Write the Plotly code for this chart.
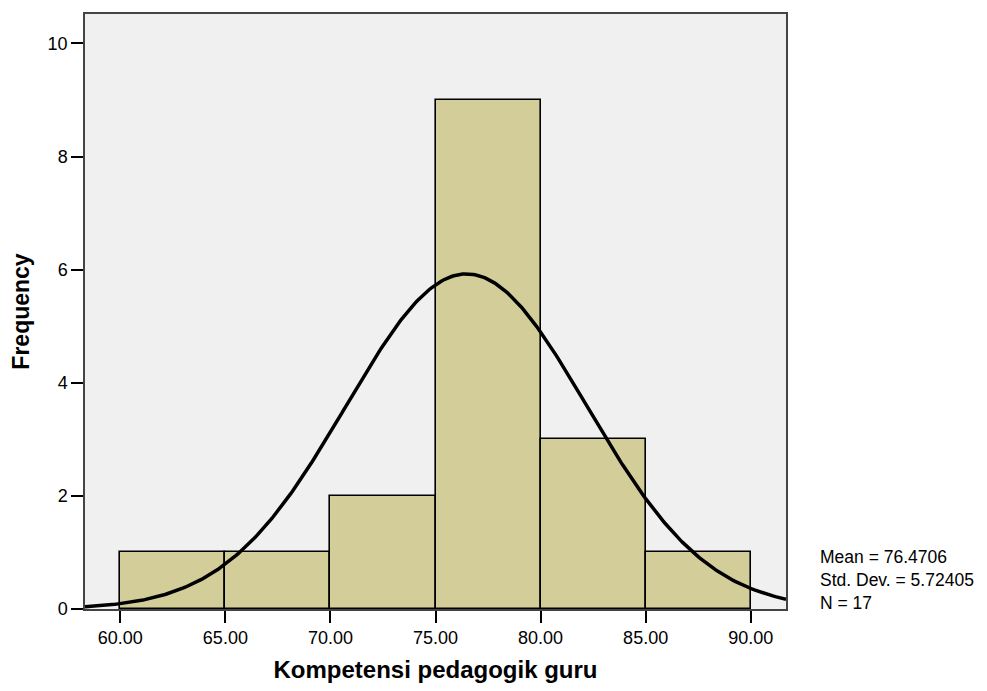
import numpy as np
import plotly.graph_objects as go

bin_starts = [60, 65, 70, 75, 80, 85]
bin_width = 5
freqs = [1, 1, 2, 9, 3, 1]
mean_val = 76.4706
std_val = 5.72405
n_val = 17
x_ticks = [60, 65, 70, 75, 80, 85, 90]
x_tick_labels = ["60.00", "65.00", "70.00", "75.00", "80.00", "85.00", "90.00"]
y_ticks = [0, 2, 4, 6, 8, 10]

x_range = [58.32, 91.68]
y_range = [0, 10.52]

centers = [s + bin_width / 2 for s in bin_starts]

xs = np.linspace(x_range[0], x_range[1], 400)
ys = n_val * bin_width / (std_val * np.sqrt(2 * np.pi)) * np.exp(-0.5 * ((xs - mean_val) / std_val) ** 2)

fig = go.Figure()
fig.add_trace(go.Bar(
    x=centers, y=freqs, width=[bin_width] * len(freqs),
    marker=dict(color="#D3CE99", line=dict(color="black", width=1.6)),
    hoverinfo="skip",
))
fig.add_trace(go.Scatter(
    x=xs, y=ys, mode="lines",
    line=dict(color="black", width=3.5),
    hoverinfo="skip",
))

fig.update_layout(
    width=971, height=675,
    margin=dict(l=77, r=193, t=4, b=74),
    paper_bgcolor="white",
    plot_bgcolor="#F0F0F0",
    showlegend=False,
    bargap=0,
    font=dict(family="Liberation Sans, Arial, sans-serif", color="black"),
    xaxis=dict(
        range=x_range, tickmode="array", tickvals=x_ticks, ticktext=x_tick_labels,
        ticks="outside", ticklen=12, tickwidth=2, tickcolor="black",
        showgrid=False, zeroline=False,
        showline=True, linecolor="#444444", linewidth=1.5, mirror=True,
        tickfont=dict(size=18),
        title=dict(text="<b>Kompetensi pedagogik guru</b>", font=dict(size=24), standoff=14),
    ),
    yaxis=dict(
        range=y_range, tickmode="array", tickvals=y_ticks,
        ticks="outside", ticklen=12, tickwidth=2, tickcolor="black",
        showgrid=False, zeroline=False,
        showline=True, linecolor="#444444", linewidth=1.5, mirror=True,
        tickfont=dict(size=18),
        title=dict(text="<b>Frequency</b>", font=dict(size=23), standoff=13),
    ),
    annotations=[dict(
        xref="paper", yref="paper", x=1.046, y=-0.01, xanchor="left", yanchor="bottom",
        text=f"Mean = {mean_val}<br>Std. Dev. = {std_val}<br>N = {n_val}",
        showarrow=False, align="left", font=dict(size=17.5, color="black"),
    )],
)

fig.write_html("out.html")
